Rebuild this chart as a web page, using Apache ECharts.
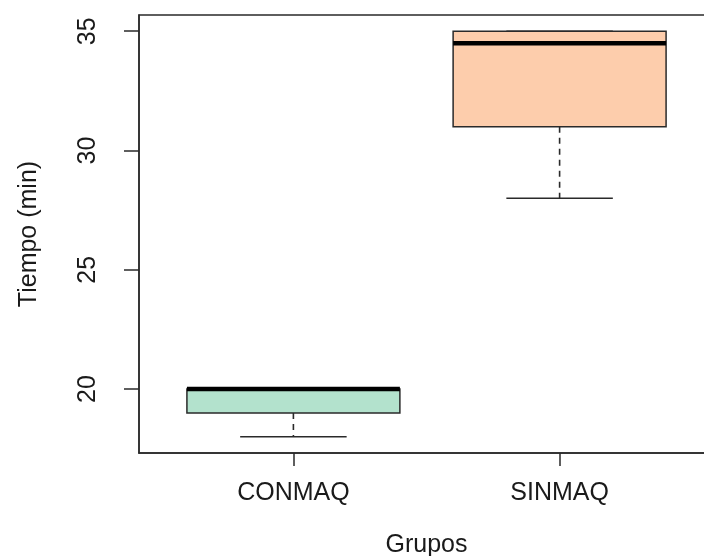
<!DOCTYPE html>
<html>
<head>
<meta charset="utf-8">
<script src="https://cdn.jsdelivr.net/npm/echarts@6/dist/echarts.min.js"></script>
<style>
  html, body { margin: 0; padding: 0; background: #fff; }
  #box_chart { width: 704px; height: 556px; }
</style>
</head>
<body>
<div id="box_chart"></div>
<script>
// groups and their five-number summaries (min, q1, median, q3, max)
const categories = ['CONMAQ', 'SINMAQ'];
const minValues = [18, 28];
const q1Values = [19, 31];
const medianValues = [20, 34.5];
const q3Values = [20, 35];
const maxValues = [20, 35];
const boxColors = ['#B3E2CD', '#FDCDAC'];
const yTicks = [20, 25, 30, 35];

const boxData = categories.map((name, i) => ({
    name: name,
    value: [i + 1, minValues[i], q1Values[i], medianValues[i], q3Values[i], maxValues[i]],
    itemStyle: { color: boxColors[i] }
}));

const chart = echarts.init(document.getElementById('box_chart'));

const textColor = '#1a1a1a';
const lineColor = '#2a2a2a';

function renderBox(params, api) {
    const x = api.value(0);
    const lo = api.coord([x, api.value(1)]);
    const q1 = api.coord([x, api.value(2)]);
    const med = api.coord([x, api.value(3)]);
    const q3 = api.coord([x, api.value(4)]);
    const hi = api.coord([x, api.value(5)]);
    const halfBox = api.size([0.4, 0])[0];
    const halfCap = api.size([0.2, 0])[0];
    const cx = lo[0];
    const fill = boxColors[params.dataIndex];
    const whisker = { stroke: lineColor, lineWidth: 1.6, lineDash: [6, 5] };
    const solid = { stroke: lineColor, lineWidth: 1.5 };
    return {
        type: 'group',
        children: [
            { type: 'line', shape: { x1: cx, y1: q1[1], x2: cx, y2: lo[1] }, style: whisker },
            { type: 'line', shape: { x1: cx, y1: q3[1], x2: cx, y2: hi[1] }, style: whisker },
            { type: 'line', shape: { x1: cx - halfCap, y1: lo[1], x2: cx + halfCap, y2: lo[1] }, style: solid },
            { type: 'line', shape: { x1: cx - halfCap, y1: hi[1], x2: cx + halfCap, y2: hi[1] }, style: solid },
            {
                type: 'rect',
                shape: { x: cx - halfBox, y: q3[1], width: halfBox * 2, height: q1[1] - q3[1] },
                style: { fill: fill, stroke: lineColor, lineWidth: 1.5 }
            },
            {
                type: 'line',
                shape: { x1: cx - halfBox, y1: med[1], x2: cx + halfBox, y2: med[1] },
                style: { stroke: '#000', lineWidth: 4.5 }
            }
        ]
    };
}

const option = {
    animation: false,
    grid: {
        left: 139,
        right: -10,
        top: 15,
        bottom: 103,
        outerBoundsMode: 'none',
        containLabel: false,
        show: true,
        borderColor: lineColor,
        borderWidth: 1.5
    },
    xAxis: {
        type: 'value',
        min: 0.42,
        max: 2.58,
        name: 'Grupos',
        nameLocation: 'middle',
        nameGap: 80,
        nameTextStyle: { color: textColor, fontSize: 25, fontFamily: 'Liberation Sans' },
        splitLine: { show: false },
        axisLine: { show: true, lineStyle: { color: lineColor, width: 1.5 } },
        axisTick: { show: true, length: 13, customValues: [1, 2], lineStyle: { color: lineColor, width: 1.5 } },
        axisLabel: {
            customValues: [1, 2],
            formatter: v => categories[Math.round(v) - 1],
            color: textColor,
            fontSize: 25,
            fontFamily: 'Liberation Sans',
            margin: 28
        }
    },
    yAxis: {
        type: 'value',
        min: 17.32,
        max: 35.68,
        name: 'Tiempo (min)',
        nameLocation: 'middle',
        nameGap: 97,
        nameTextStyle: { color: textColor, fontSize: 25, fontFamily: 'Liberation Sans' },
        splitLine: { show: false },
        axisLine: { show: true, lineStyle: { color: lineColor, width: 1.5 } },
        axisTick: { show: true, length: 15, customValues: yTicks, lineStyle: { color: lineColor, width: 1.5 } },
        axisLabel: {
            customValues: yTicks,
            rotate: 90,
            color: textColor,
            fontSize: 25,
            fontFamily: 'Liberation Sans',
            margin: 38
        }
    },
    series: [{
        type: 'custom',
        renderItem: renderBox,
        encode: { x: 0, y: [1, 2, 3, 4, 5] },
        data: boxData
    }]
};

chart.setOption(option);
window.addEventListener('resize', function () {
    chart.resize();
});
</script>
</body>
</html>
